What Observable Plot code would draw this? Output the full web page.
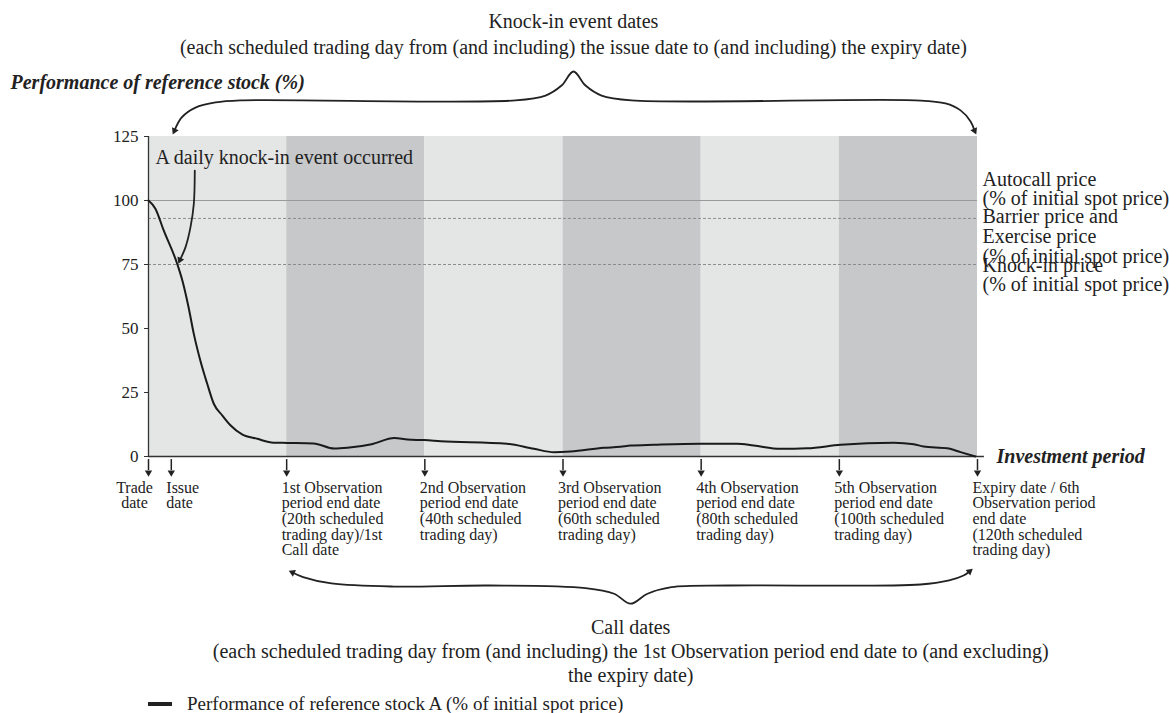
<!DOCTYPE html>
<html><head><meta charset="utf-8">
<script src="https://cdn.jsdelivr.net/npm/d3@7"></script>
<script src="https://cdn.jsdelivr.net/npm/@observablehq/plot@0.6"></script>
<style>
body{margin:0;background:#fff;}
#chart svg{display:block;}
.legend{font-family:"Liberation Serif","Times New Roman",serif;font-size:19px;color:#222;height:24px;line-height:24px;display:flex;align-items:center;padding-left:148px;}
.legend .sw{display:inline-block;width:24px;height:3.5px;background:#222;margin-right:15px;}
</style></head><body>
<div id="chart"></div>
<div class="legend"><span class="sw"></span><span>Performance of reference stock A (% of initial spot price)</span></div>
<script>
// Performance of reference stock A (% of initial spot price), by scheduled trading day
const days = [0,1.0,2.2,4.15,4.9,5.8,6.55,7.5,8.5,9.45,10.7,11.9,13.55,15.75,18.1,20.1,23.9,26.9,28.8,32.3,35.6,37.5,39.9,42.3,51.9,55.8,58.7,61.1,65.9,68.3,69.8,73.15,79.9,85.2,87.6,91.5,95.35,100.2,107.9,110.8,112.2,115.6,117.55,119.7];
const perf = [100,96.8,88.3,75.3,68.75,58.3,48.0,37.5,28.4,20.6,16.0,12.1,8.6,6.9,5.4,5.3,5.1,3.1,3.4,4.8,7.2,6.6,6.4,6.0,5.0,3.0,1.7,1.95,3.4,3.8,4.3,4.6,5.0,5.0,4.3,3.0,3.2,4.6,5.4,4.8,3.9,3.2,1.7,0];

// Observation periods (shaded bands)
const periodStart = [0,20,40,60,80,100];
const periodEnd = [20,40,60,80,100,120];
const periodShade = ["light","dark","light","dark","light","dark"];

// Price levels (% of initial spot price)
const levelValues = [100,93,75];
const levelLabels = ["Autocall price\n(% of initial spot price)","Barrier price and\nExercise price\n(% of initial spot price)","Knock-in price\n(% of initial spot price)"];

// Key dates on the investment period axis
const dateDays = [0,3.3,20,40,60,80,100,120];
const dateLabels = [
  "Trade\ndate",
  "Issue\ndate",
  "1st Observation\nperiod end date\n(20th scheduled\ntrading day)/1st\nCall date",
  "2nd Observation\nperiod end date\n(40th scheduled\ntrading day)",
  "3rd Observation\nperiod end date\n(60th scheduled\ntrading day)",
  "4th Observation\nperiod end date\n(80th scheduled\ntrading day)",
  "5th Observation\nperiod end date\n(100th scheduled\ntrading day)",
  "Expiry date / 6th\nObservation period\nend date\n(120th scheduled\ntrading day)"
];
const yTicks = [0,25,50,75,100,125];

// Texts
const titleText = "Performance of reference stock (%)";
const xTitle = "Investment period";
const knockInDatesText = "Knock-in event dates\n(each scheduled trading day from (and including) the issue date to (and including) the expiry date)";
const callDatesText = "Call dates\n(each scheduled trading day from (and including) the 1st Observation period end date to (and excluding)\nthe expiry date)";
const eventText = "A daily knock-in event occurred";

// Annotation shapes, in data units [trading day, %]
const topBrace = [[3.76,127.3],[4.78,132.4],[6.80,136.3],[9.70,138.3],[13.32,139.1],[53.13,139.1],[57.47,141.0],[59.79,144.9],[61.52,150.4],[63.26,144.9],[65.58,141.0],[69.92,139.1],[111.03,139.1],[115.37,137.9],[117.55,135.2],[119.0,130.9],[119.57,127.3]];
const bottomBrace = [[20.85,-45.3],[22.38,-47.1],[26.49,-49.6],[35.54,-50.8],[49.36,-50.4],[63.26,-51.4],[67.40,-53.6],[69.77,-57.5],[72.23,-53.6],[75.70,-51.05],[84.03,-50.4],[111.75,-50.0],[115.89,-48.4],[117.98,-46.5],[118.85,-44.9]];
const eventArrow = [[6.70,111.7],[6.56,98.7],[6.08,89.6],[5.36,81.8],[4.56,76.8]];
const arrowHeads = [
  {x:3.76,y:127.3,r:205},{x:119.57,y:127.3,r:155},
  {x:20.85,y:-45.3,r:295},{x:118.85,y:-44.9,r:50},
  {x:4.56,y:76.8,r:203}
];
const eventLabelPos = {x:1.0, y:114.3};
const topTextX = 61.5, bottomTextX = 69.8;

const series = days.map((d,i)=>({day:d, value:perf[i]}));
const periods = periodStart.map((s,i)=>({x1:s, x2:periodEnd[i], shade:periodShade[i]}));
const dates = dateDays.map((d,i)=>({day:d, label:dateLabels[i]}));
const levels = levelValues.map((v,i)=>({value:v, label:levelLabels[i]}));
const ink = "#222";

const chart = Plot.plot({
  width: 1169, height: 692,
  marginLeft: 148, marginRight: 192, marginTop: 136, marginBottom: 236,
  x: {domain: [0,120], axis: null},
  y: {domain: [0,125], axis: null},
  color: {domain: ["light","dark"], range: ["#e4e5e5","#c6c8ca"]},
  style: {fontFamily: '"Liberation Serif","Times New Roman",serif', fontSize: "17px", color: ink, background: "white", overflow: "visible"},
  marks: [
    Plot.rect(periods, {x1:"x1", x2:"x2", y1:0, y2:125, fill:"shade"}),
    Plot.ruleY([levelValues[0]], {stroke:"#9a9a9a", strokeWidth:1.2}),
    Plot.ruleY(levelValues.slice(1), {stroke:"#8c8c8c", strokeWidth:1, strokeDasharray:"3,2"}),
    Plot.ruleX([0], {y1:0, y2:125, stroke:"#333", strokeWidth:1.3}),
    Plot.ruleY([0], {x1:0, x2:121, stroke:"#333", strokeWidth:1.3}),
    Plot.axisY({ticks: yTicks, tickSize:4, tickPadding:6, label:null, fontSize:17, stroke:"#333"}),
    Plot.line(series, {x:"day", y:"value", stroke:"#1a1a1a", strokeWidth:2, curve:"monotone-x"}),
    // right-hand level labels
    Plot.text(levels.slice(0,1), {x:120, y:"value", text:"label", dx:5, dy:4, textAnchor:"start", lineAnchor:"bottom", lineHeight:0.94, fontSize:20, fill:ink}),
    Plot.text(levels.slice(1,2), {x:120, y:"value", text:"label", dx:5, dy:-10, textAnchor:"start", lineAnchor:"top", lineHeight:1.0, fontSize:20, fill:ink}),
    Plot.text(levels.slice(2), {x:120, y:"value", text:"label", dx:5, dy:-6, textAnchor:"start", lineAnchor:"top", lineHeight:0.96, fontSize:20, fill:ink}),
    // date arrows and labels
    Plot.ruleX(dates, {x:"day", y1:-1.2, y2:-5.5, stroke:ink, strokeWidth:1.5}),
    Plot.dot(dates, {x:"day", y:0, dy:16, r:2.7, symbol:"triangle", rotate:180, fill:ink, stroke:null}),
    Plot.text(dates.slice(0,1), {x:"day", y:0, text:"label", dx:-14, dy:25, textAnchor:"middle", lineAnchor:"top", lineHeight:0.98, fontSize:16, fill:ink}),
    Plot.text(dates.slice(1), {x:"day", y:0, text:"label", dx:-5, dy:25, textAnchor:"start", lineAnchor:"top", lineHeight:0.98, fontSize:16, fill:ink}),
    // braces and annotation arrows
    Plot.line(topBrace, {x:d=>d[0], y:d=>d[1], curve:"catmull-rom", stroke:ink, strokeWidth:1.8}),
    Plot.line(bottomBrace, {x:d=>d[0], y:d=>d[1], curve:"catmull-rom", stroke:ink, strokeWidth:1.8}),
    Plot.line(eventArrow, {x:d=>d[0], y:d=>d[1], curve:"catmull-rom", stroke:ink, strokeWidth:1.8}),
    Plot.dot(arrowHeads, {x:"x", y:"y", rotate:"r", r:2.7, symbol:"triangle", fill:ink, stroke:null}),
    // texts
    Plot.text([eventText], {x:eventLabelPos.x, y:eventLabelPos.y, text:d=>d, textAnchor:"start", lineAnchor:"bottom", fontSize:20, fill:ink}),
    Plot.text([knockInDatesText], {x:topTextX, frameAnchor:"top", text:d=>d, dy:-83, textAnchor:"middle", lineAnchor:"bottom", lineHeight:1.3, fontSize:20, fill:ink}),
    Plot.text([callDatesText], {x:bottomTextX, frameAnchor:"bottom", text:d=>d, dy:160, textAnchor:"middle", lineAnchor:"top", lineHeight:1.2, fontSize:20, fill:ink}),
    Plot.text([titleText], {frameAnchor:"top-left", text:d=>d, dx:-138, dy:-48, textAnchor:"start", lineAnchor:"bottom", fontSize:20, fontWeight:"bold", fontStyle:"italic", fill:ink}),
    Plot.text([xTitle], {frameAnchor:"bottom-right", text:d=>d, dx:19, textAnchor:"start", lineAnchor:"middle", fontSize:20, fontWeight:"bold", fontStyle:"italic", fill:ink})
  ]
});
document.getElementById("chart").appendChild(chart);
</script>
</body></html>
